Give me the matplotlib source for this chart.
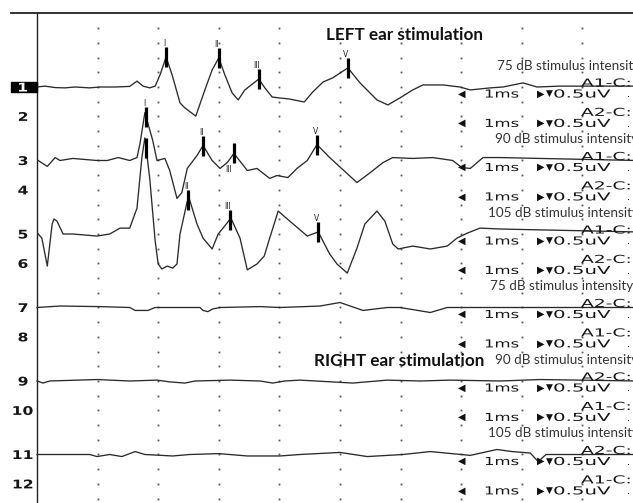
import numpy as np
import matplotlib
matplotlib.use('Agg')
import matplotlib.pyplot as plt
from matplotlib.patches import Rectangle, PathPatch
from matplotlib.textpath import TextPath
from matplotlib.font_manager import FontProperties
from matplotlib.transforms import Affine2D

# ---- data: latency (ms) / amplitude (uV) per channel ----
t_ch1 = [0, 0.13, 0.30, 0.46, 0.63, 0.87, 1.04, 1.29, 1.53, 1.65, 1.75, 1.86, 1.95, 2.03,
         2.13, 2.23, 2.36, 2.44, 2.62, 2.77, 2.89, 3.00, 3.10, 3.22, 3.32, 3.43, 3.51, 3.66,
         3.76, 3.88, 3.99, 4.17, 4.41, 4.55, 4.72, 4.88, 5.13, 5.33, 5.61, 5.79, 5.99, 6.20,
         6.37, 6.70, 6.98, 7.15, 7.48, 7.69, 8.02, 8.25, 8.63, 9.90]
a_ch1 = [0, 0.03, -0.02, -0.03, 0, -0.03, 0, 0, 0.02, 0.20, 0.03, -0.03, 0.03, 0.41,
         1.02, 0.41, -0.54, -0.71, -0.99, -0.10, 0.58, 0.99, 0.41, -0.20, -0.44, -0.10, 0.03, 0.27,
         -0.03, -0.34, -0.37, -0.41, -0.51, -0.17, 0.17, 0.31, 0.65, 0.14, -0.44, -0.61, -0.37, -0.10,
         0.07, 0.07, 0, -0.10, -0.03, 0, 0.14, 0, 0.03, 0.03]

t_ch3 = [0.02, 0.17, 0.30, 0.38, 0.59, 0.99, 1.16, 1.34, 1.53, 1.65, 1.70, 1.78, 1.91, 1.98,
         2.11, 2.19, 2.31, 2.39, 2.48, 2.64, 2.74, 2.89, 3.02, 3.14, 3.25, 3.47, 3.63, 3.84,
         3.96, 4.14, 4.29, 4.46, 4.62, 4.83, 5.28, 5.50, 5.71, 5.87, 6.20, 6.53, 6.86, 7.01,
         7.15, 7.36, 7.64, 8.30, 9.90]
a_ch3 = [0, -0.20, 0.10, 0, 0.07, 0, 0, 0.10, 0, 0.10, 0.58, 1.63, 0.68, 0,
         0.07, -0.34, -1.29, -1.09, -0.27, 0.17, 0.51, 0, -0.27, -0.07, 0.24, -0.34, -0.27, -0.61,
         -0.51, -0.58, -0.27, 0, 0.54, 0.10, -0.75, -0.41, -0.07, 0.10, 0.07, 0.10, 0, -0.24,
         -0.27, 0.10, 0.10, 0.07, 0]

t_ch5 = [0.02, 0.08, 0.17, 0.25, 0.28, 0.33, 0.43, 0.59, 0.99, 1.20, 1.37, 1.53, 1.65, 1.73,
         1.78, 1.86, 1.95, 2.00, 2.06, 2.15, 2.24, 2.31, 2.36, 2.48, 2.51, 2.64, 2.74, 2.89,
         2.99, 3.07, 3.20, 3.35, 3.47, 3.63, 3.75, 3.84, 3.98, 4.17, 4.46, 4.64, 4.83, 4.95,
         5.12, 5.28, 5.41, 5.61, 5.74, 5.87, 5.96, 6.20, 6.49, 6.77, 6.93, 7.10, 7.31, 7.64,
         8.30, 9.90]
a_ch5 = [0, -0.14, -1.09, 0.34, 0.51, 0.44, 0, 0, -0.07, 0, 0.20, 0.20, 0.88, 2.59,
         3.27, 1.90, -0.24, -1.02, -1.19, -1.09, -1.16, -1.02, 0, 1.12, 1.22, 0.34, -0.14, -0.51,
         0, 0.20, 0.54, -0.14, -1.22, -1.02, -0.75, -0.14, 0.78, 0.44, -0.07, 0.07, -0.68, -1.02,
         -1.33, -0.48, 0.34, 0.78, 0.44, -0.34, -0.51, -0.41, -0.51, -0.41, -0.14, 0.03, 0.20, 0.17,
         0.14, 0.07]

t_ch7 = [0, 0.38, 1.04, 1.53, 1.62, 1.83, 1.95, 2.69, 2.74, 2.82, 2.90, 3.02, 3.68, 4.01,
         4.67, 5.00, 5.38, 5.78, 5.99, 6.49, 6.77, 7.64, 9.90]
a_ch7 = [0, 0.05, 0.03, 0, -0.10, -0.10, 0, 0, -0.10, -0.14, -0.05, 0, 0.03, 0,
         0.05, 0.17, -0.10, 0, 0, -0.17, 0, 0, 0]

t_ch9 = [0, 0.10, 0.21, 0.99, 1.53, 1.98, 2.19, 2.44, 2.61, 3.18, 3.68, 3.89, 4.09, 4.34,
         5.21, 5.78, 6.32, 6.82, 7.64, 8.30, 9.90]
a_ch9 = [0, -0.07, 0, 0.05, 0, 0.03, -0.03, -0.07, 0, 0.03, 0, -0.07, 0, 0.03,
         -0.07, 0.03, 0, 0.03, 0, 0.05, 0]

t_ch11 = [0, 0.87, 0.99, 1.20, 1.40, 1.62, 1.78, 2.24, 2.52, 3.00, 3.47, 4.01, 4.34, 5.00,
          5.45, 6.04, 6.49, 7.15, 7.59, 7.84, 8.14, 8.27, 8.40, 8.63, 9.90]
a_ch11 = [0, 0, -0.07, 0, -0.07, 0.10, 0, -0.05, 0, 0.03, -0.05, -0.05, 0, 0.07,
          -0.07, 0, 0.10, -0.03, 0.17, 0.10, 0.05, -0.24, 0, 0, 0]

# peak markers (latency in ms) and their labels
peaks_ch1 = [2.13, 3.00, 3.66, 5.13]
peaks_ch3 = [1.80, 2.74, 3.25, 4.62]
peaks_ch5 = [1.80, 2.49, 3.18, 4.64]
peak_labels_ch1 = ['I', 'II', 'III', 'V']
peak_labels_ch3 = ['I', 'II', 'III', 'V']
peak_labels_ch5 = ['', 'II', 'III', 'V']

channel_names = ['A1-C:', 'A2-C:', 'A1-C:', 'A2-C:', 'A1-C:', 'A2-C:',
                 'A2-C:', 'A1-C:', 'A2-C:', 'A1-C:', 'A2-C:', 'A1-C:']
intensity_labels = ['75 dB stimulus intensity', '90 dB stimulus intensity',
                    '105 dB stimulus intensity'] * 2
side_titles = ['LEFT ear stimulation', 'RIGHT ear stimulation']

# ---- layout ----
PX_MS = 60.6     # pixels per ms
PX_UV = 29.4     # pixels per uV
def mx(px):
    return (px - 37) / PX_MS

# baselines of the 12 channels (uV), channel 1 at 0
base = {}
for k in range(6):
    base[2 * k + 1] = -2.5 * k
    base[2 * k + 2] = -2.5 * k - 1.0

fig = plt.figure(figsize=(6.33, 5.03), dpi=100)
ax = fig.add_axes([0, 0, 1, 1])
ax.axis('off')
ax.set_xlim(mx(0), mx(633))
ax.set_ylim(-(503 - 87) / PX_UV, 87 / PX_UV)

# dotted grid
gx, gy = np.meshgrid(np.arange(1, 10), np.arange(-14, 2.01, 0.5))
ax.plot(gx.ravel(), gy.ravel(), ls='none', marker='s', ms=1.3, mew=0, color='#555', zorder=1)

# frame lines
top = (87 - 13) / PX_UV
ax.plot([mx(11), mx(640)], [top, top], color='#222', lw=1.3, zorder=2)
ax.plot([0, 0], [top, ax.get_ylim()[0]], color='#222', lw=1.0, zorder=2)

# traces
traces = {1: (t_ch1, a_ch1), 3: (t_ch3, a_ch3), 5: (t_ch5, a_ch5),
          7: (t_ch7, a_ch7), 9: (t_ch9, a_ch9), 11: (t_ch11, a_ch11)}
for row, (t, a) in traces.items():
    ax.plot(t, base[row] + np.array(a), color='#2a2a2a', lw=0.95, zorder=3)

# peak markers
marks = [(1, peaks_ch1, peak_labels_ch1), (3, peaks_ch3, peak_labels_ch3),
         (5, peaks_ch5, peak_labels_ch5)]
for row, lats, labs in marks:
    t, a = traces[row]
    for x, lab in zip(lats, labs):
        yc = base[row] + np.interp(x, t, a)
        ax.plot([x, x], [yc - 0.34, yc + 0.34], color='k', lw=2.3,
                solid_capstyle='butt', zorder=4)
        if row == 3 and lab == 'III':
            ax.text(x - 0.08, yc - 0.40, lab, ha='center', va='top', fontsize=5.5,
                    color='#222', zorder=4)
        elif lab:
            ax.text(x - 0.03, yc + 0.30, lab, ha='center', va='bottom', fontsize=5.5,
                    color='#222', zorder=4)

# channel numbers on the left (wide bold device font)
dev_font = FontProperties(family='DejaVu Sans')
dev_bold = FontProperties(family='DejaVu Sans', weight='bold')
def wide_text(x_px, y, s, stretch, size=11, prop=dev_font, color='#151515', ha='left'):
    path = TextPath((0, 0), s, size=size, prop=prop)
    x0 = mx(x_px)
    if ha == 'center':
        ext = path.get_extents()
        x0 -= (ext.x0 + ext.x1) / 2 * stretch / PX_MS
    tr = Affine2D().scale(stretch / PX_MS, 1 / PX_UV).translate(x0, y) + ax.transData
    ax.add_patch(PathPatch(path, transform=tr, fc=color, lw=0, zorder=5))

for row in range(1, 13):
    y = base[row] - 4.5 / PX_UV
    if row == 1:
        ax.add_patch(Rectangle((mx(11), base[row] - 0.17), mx(37) - mx(11), 0.34,
                               color='k', zorder=4))
        wide_text(23, y, '1', 1.3, size=12, prop=dev_bold, color='white', ha='center')
    else:
        wide_text(23, y, str(row), 1.3, size=12, prop=dev_bold, ha='center')

# right-hand annotations: wide device font -> stretched text paths
for row in range(1, 13):
    y = base[row]
    wide_text(581, y + 0.5 / PX_UV, channel_names[row - 1], 1.7)
    yb = y - 10.5 / PX_UV
    yy = y - 6.5 / PX_UV
    ax.text(mx(462), yy, '\u25c0', ha='center', va='center', fontsize=7, color='#111', zorder=5)
    wide_text(484, yb, '1ms', 1.5)
    ax.text(mx(541), yy, '\u25b6', ha='center', va='center', fontsize=7, color='#111', zorder=5)
    ax.text(mx(549), yy, '\u25bc', ha='center', va='center', fontsize=6.5, color='#111', zorder=5)
    wide_text(553, yb, '0.5uV', 1.8)
    wide_text(626, yb, '.', 1.5)

label_x = [497, 495, 488, 490, 495, 488]
for k, lab in enumerate(intensity_labels):
    row = 2 * k + 1
    ax.text(mx(label_x[k]), base[row] + 21 / PX_UV, lab, ha='left', va='center',
            fontsize=9.7, family='Lato', color='#333', zorder=5)

ax.text(mx(483), base[1] + 52 / PX_UV, side_titles[0], ha='right', va='center',
        fontsize=12.3, family='Lato', fontweight='bold', color='#111', zorder=5)
ax.text(mx(484), base[9] + 20 / PX_UV, side_titles[1], ha='right', va='center',
        fontsize=12.3, family='Lato', fontweight='bold', color='#111', zorder=5)

fig.savefig('out.png', dpi=100)
